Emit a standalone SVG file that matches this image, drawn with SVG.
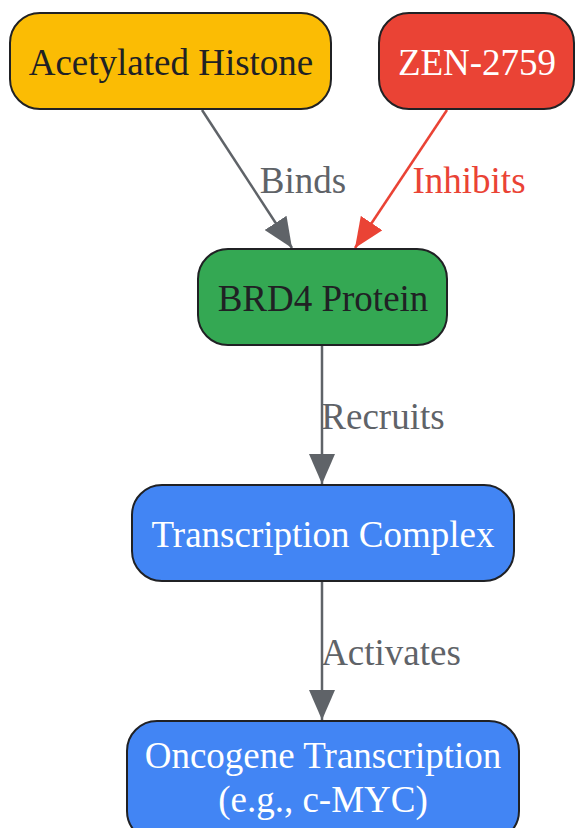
<svg xmlns="http://www.w3.org/2000/svg" width="575" height="828" viewBox="0 0 575 828">
<style>
.n{stroke:#202124;stroke-width:2}
.t{font-family:"Liberation Serif","Times New Roman",serif;font-size:37px;text-anchor:middle}
.e{fill:none;stroke-width:2.5}
</style>
<defs>
<marker id="ag" markerUnits="userSpaceOnUse" markerWidth="30" markerHeight="26" refX="30" refY="13" orient="auto"><path d="M0,0 L30,13 L0,26 Z" fill="#5F6368"/></marker>
<marker id="ar" markerUnits="userSpaceOnUse" markerWidth="30" markerHeight="26" refX="30" refY="13" orient="auto"><path d="M0,0 L30,13 L0,26 Z" fill="#EA4335"/></marker>
</defs>
<rect width="575" height="828" fill="#FFFFFF"/>
<g id="edges">
<line class="e" x1="202" y1="110" x2="292" y2="248" stroke="#5F6368" marker-end="url(#ag)"/>
<text class="t" x="303" y="193" fill="#5F6368">Binds</text>
<line class="e" x1="447" y1="110" x2="355" y2="248" stroke="#EA4335" marker-end="url(#ar)"/>
<text class="t" x="469" y="193" fill="#EA4335">Inhibits</text>
<line class="e" x1="322" y1="346" x2="322" y2="484" stroke="#5F6368" marker-end="url(#ag)"/>
<text class="t" x="383" y="429" fill="#5F6368">Recruits</text>
<line class="e" x1="322" y1="582" x2="322" y2="720" stroke="#5F6368" marker-end="url(#ag)"/>
<text class="t" x="391" y="665" fill="#5F6368">Activates</text>
</g>
<g id="histone">
<rect class="n" x="10" y="13" width="321" height="96" rx="30" fill="#FBBC04"/>
<text class="t" x="171" y="75" fill="#202124">Acetylated Histone</text>
</g>
<g id="zen">
<rect class="n" x="379" y="13" width="195" height="96" rx="30" fill="#EA4335"/>
<text class="t" x="477" y="75" fill="#FFFFFF">ZEN-2759</text>
</g>
<g id="brd4">
<rect class="n" x="198" y="249" width="249" height="96" rx="30" fill="#34A853"/>
<text class="t" x="323" y="311" fill="#202124">BRD4 Protein</text>
</g>
<g id="complex">
<rect class="n" x="132" y="485" width="382" height="96" rx="30" fill="#4285F4"/>
<text class="t" x="323" y="547" fill="#FFFFFF">Transcription Complex</text>
</g>
<g id="oncogene">
<rect class="n" x="127" y="721" width="392" height="120" rx="30" fill="#4285F4"/>
<text class="t" x="323" y="768" fill="#FFFFFF">Oncogene Transcription</text>
<text class="t" x="323" y="812" fill="#FFFFFF">(e.g., c-MYC)</text>
</g>
</svg>
